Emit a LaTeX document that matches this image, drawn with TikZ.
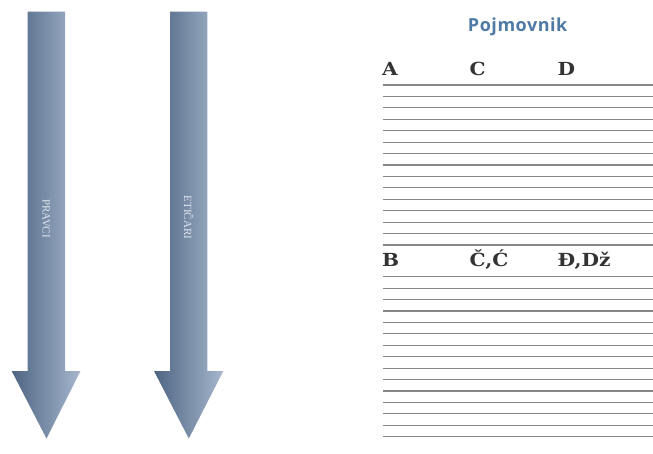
\documentclass[tikz,border=0pt]{standalone}
\usepackage{fontspec}
\newfontfamily\titlefont{Open Sans}[LetterSpace=3]
\newfontfamily\letterfont{DejaVu Serif}[FakeStretch=1.12]
\newfontfamily\arrowfont{Liberation Serif}
\definecolor{titleblue}{RGB}{79,122,166}
\definecolor{arrowdark}{RGB}{78,101,131}
\definecolor{arrowlight}{RGB}{166,183,205}
\definecolor{arrowtext}{RGB}{222,229,238}
\definecolor{rulegray}{RGB}{135,135,135}
\begin{document}
\begin{tikzpicture}[x=1pt,y=-1pt,
  arrowbody/.style={left color=arrowdark, right color=arrowlight, draw=none},
  arrowlabel/.style={font=\arrowfont\fontsize{11}{11}\selectfont, text=arrowtext, rotate=-90, inner sep=0pt},
  ruleline/.style={draw=rulegray, line width=1.25pt},
  letterhead/.style={font=\letterfont\bfseries\fontsize{18}{18}\selectfont, text=black!80, anchor=base west, inner sep=0pt},
  titlestyle/.style={font=\titlefont\bfseries\fontsize{18}{18}\selectfont, text=titleblue, anchor=base, inner sep=0pt}]
\useasboundingbox (0,0) rectangle (653,454);
\fill[white] (0,0) rectangle (653,454);
% arrows
\path[arrowbody] (27.7,11.7) -- (65,11.7) -- (65,371) -- (80.5,371) -- (46.5,438.5) -- (11.7,371) -- (27.7,371) -- cycle;
\path[arrowbody] (170,11.7) -- (207.3,11.7) -- (207.3,371) -- (223.3,371) -- (188.8,438.5) -- (154,371) -- (170,371) -- cycle;
\node[arrowlabel] (pravci) at (46.3,218.5) {PRAVCI};
\node[arrowlabel] (eticari) at (188.8,217.5) {ETIČARI};
% title
\node[titlestyle] (title) at (517.7,31.7) {Pojmovnik};
% letters
\node[letterhead] (la) at (382,75.5) {A};
\node[letterhead] (lc) at (469.5,75.5) {C};
\node[letterhead] (ld) at (557.5,75.5) {D};
\node[letterhead] (lb) at (382,266.5) {B};
\node[letterhead] (lcc) at (469.5,266.5) {Č,Ć};
\node[letterhead] (ldd) at (557.5,266.5) {Đ,Dž};
% rules
\foreach \i in {0,...,14} {
  \draw[ruleline] (383,{85+\i*11.43}) -- (653,{85+\i*11.43});
  \draw[ruleline] (383,{276.7+\i*11.43}) -- (653,{276.7+\i*11.43});
}
\end{tikzpicture}
\end{document}
